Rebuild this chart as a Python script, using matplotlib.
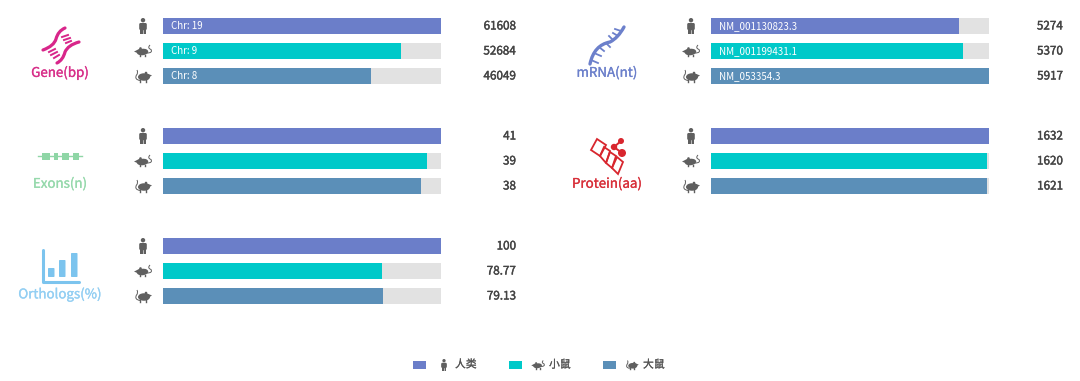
import numpy as np
import matplotlib
matplotlib.use('Agg')
import matplotlib.pyplot as plt
import matplotlib.patheffects as pe
from matplotlib.patches import Circle, Ellipse, FancyBboxPatch, PathPatch, Polygon, Rectangle
from matplotlib.path import Path

plt.rcParams['font.family'] = ['Noto Sans CJK SC', 'DejaVu Sans']

W, H = 1080, 381

# data
species = ['人类', '小鼠', '大鼠']
gene_values = [61608, 52684, 46049]
gene_notes = ['Chr: 19', 'Chr: 9', 'Chr: 8']
mrna_values = [5274, 5370, 5917]
mrna_notes = ['NM_001130823.3', 'NM_001199431.1', 'NM_053354.3']
exon_values = [41, 39, 38]
protein_values = [1632, 1620, 1621]
ortholog_values = [100, 78.77, 79.13]
ortholog_labels = ['100', '78.77', '79.13']

bar_colors = ['#6b7ec9', '#00c9c9', '#5b8fb8']
track_color = '#e2e2e2'
icon_color = '#5f5f5f'
value_color = '#444444'

fig = plt.figure(figsize=(W / 100, H / 100), dpi=100)

# full figure layer in pixel coordinates for icons and captions
bg = fig.add_axes([0, 0, 1, 1])
bg.set_xlim(0, W)
bg.set_ylim(H, 0)
bg.axis('off')


def heavier(txt, color, width=0.2):
    # the source font is a medium weight, the installed one only has regular and bold
    txt.set_path_effects([pe.withStroke(linewidth=width, foreground=color)])


def person(cx, cy, s=1.0):
    bg.add_patch(Circle((cx, cy - 5.8 * s), 2.2 * s, fc=icon_color, ec='none'))
    bg.add_patch(FancyBboxPatch((cx - 3.8 * s, cy - 3 * s), 7.6 * s, 7 * s,
                                boxstyle='round,pad=0,rounding_size=1.4', fc=icon_color, ec='none'))
    bg.add_patch(Rectangle((cx - 2.6 * s, cy + 2 * s), 5.2 * s, 6 * s, fc=icon_color, ec='none'))
    bg.plot([cx, cx], [cy + 4 * s, cy + 8 * s], color='white', lw=0.4)


def mouse(cx, cy, s=1.0):
    # body faces left, tail curls up on the right
    bg.add_patch(Ellipse((cx - 0.5 * s, cy + 1 * s), 11.5 * s, 6.5 * s, angle=-6, fc=icon_color, ec='none'))
    bg.add_patch(Polygon([(cx - 9 * s, cy + 0.6 * s), (cx - 3 * s, cy - 2.5 * s), (cx - 3 * s, cy + 3 * s)],
                         fc=icon_color, ec='none'))
    bg.add_patch(Circle((cx - 2.5 * s, cy - 2.5 * s), 1.3 * s, fc=icon_color, ec='none'))
    tail = Path([(cx + 4 * s, cy + 2 * s), (cx + 10 * s, cy + 2 * s), (cx + 8 * s, cy - 1.5 * s),
                 (cx + 4 * s, cy - 3 * s), (cx + 7 * s, cy - 6 * s)],
                [Path.MOVETO, Path.CURVE3, Path.CURVE3, Path.CURVE3, Path.CURVE3])
    bg.add_patch(PathPatch(tail, fc='none', ec=icon_color, lw=0.7))
    for dx in (-3, 2):
        bg.plot([cx + dx * s, cx + dx * s], [cy + 3.5 * s, cy + 5 * s], color=icon_color, lw=1.0)


def rat(cx, cy, s=1.0):
    # body faces right, tail wraps around the left
    bg.add_patch(Ellipse((cx + 1 * s, cy + 1 * s), 12 * s, 7.5 * s, fc=icon_color, ec='none'))
    bg.add_patch(Polygon([(cx + 9 * s, cy - 0.5 * s), (cx + 3 * s, cy - 3 * s), (cx + 3 * s, cy + 3.2 * s)],
                         fc=icon_color, ec='none'))
    bg.add_patch(Circle((cx + 3 * s, cy - 3 * s), 1.3 * s, fc=icon_color, ec='none'))
    tail = Path([(cx - 3 * s, cy + 4.5 * s), (cx - 9 * s, cy + 3.5 * s), (cx - 6.5 * s, cy - 1 * s),
                 (cx - 4.5 * s, cy - 3 * s), (cx - 6 * s, cy - 6 * s)],
                [Path.MOVETO, Path.CURVE3, Path.CURVE3, Path.CURVE3, Path.CURVE3])
    bg.add_patch(PathPatch(tail, fc='none', ec=icon_color, lw=0.7))
    for dx in (-3, 3):
        bg.plot([cx + dx * s, cx + dx * s], [cy + 4 * s, cy + 5.5 * s], color=icon_color, lw=1.0)


icons = [person, mouse, rat]


def panel(left, top, values, labels, notes=None, value_x=None):
    # three tracks, each bar scaled to the largest value of the panel
    ax = fig.add_axes([left / W, 1 - (top + 72) / H, 278 / W, 72 / H])
    rows = np.arange(3)
    ax.barh(rows, [max(values)] * 3, height=16 / 25, color=track_color)
    ax.barh(rows, values, height=16 / 25, color=bar_colors)
    ax.set_xlim(0, max(values))
    ax.set_ylim(2.44, -0.44)
    ax.axis('off')
    if notes:
        for i, note in enumerate(notes):
            ax.text(max(values) * 8 / 278, i, note, color='white', fontsize=7.0, va='center', ha='left')
    for i, lab in enumerate(labels):
        cy = top + 11 + i * 25
        t = bg.text(value_x, cy, lab, color=value_color, fontsize=8.4, ha='right', va='center')
        heavier(t, value_color, 0.3)
        icons[i](left - 20, cy, 1.0)


panel(163, 15, gene_values, [str(v) for v in gene_values], gene_notes, 516)
panel(711, 15, mrna_values, [str(v) for v in mrna_values], mrna_notes, 1063)
panel(163, 125, exon_values, [str(v) for v in exon_values], None, 516)
panel(711, 125, protein_values, [str(v) for v in protein_values], None, 1063)
panel(163, 235, ortholog_values, ortholog_labels, None, 516)

# captions
captions = [(60, 72.5, 'Gene(bp)', '#d8308a'), (607, 72.5, 'mRNA(nt)', '#6c80cb'),
            (60, 183.5, 'Exons(n)', '#96d9ac'), (607, 183.5, 'Protein(aa)', '#d8303a'),
            (60, 294, 'Orthologs(%)', '#93cff3')]
for x, y, cap, col in captions:
    heavier(bg.text(x, y, cap, color=col, fontsize=9.6, ha='center', va='center'), col, 0.2)

# gene icon
pink = '#d8268a'
codes = [Path.MOVETO, Path.CURVE3, Path.CURVE3, Path.CURVE3, Path.CURVE3]
for pts in ([(43, 50), (54, 46), (56, 39), (58, 31), (65, 28)],
            [(79, 42), (68, 45), (65, 52), (63, 60), (57, 63)]):
    bg.add_patch(PathPatch(Path(pts, codes), fc='none', ec=pink, lw=2.3, capstyle='round'))
for x0, y0, x1, y1 in [(49, 52, 55, 49), (51, 55, 57, 52), (54, 58, 59, 55),
                       (62, 37, 68, 35), (64, 40, 70, 38), (66, 43, 71, 41)]:
    bg.plot([x0, x1], [y0, y1], color=pink, lw=1.4)

# mrna icon
blue = '#6c80cb'
strand = Path([(590, 64), (594, 45), (610, 42), (618, 38), (624, 27)], codes)
bg.add_patch(PathPatch(strand, fc='none', ec=blue, lw=2.4, capstyle='round'))
for x0, y0, x1, y1 in [(591, 60, 598, 63), (594, 53, 601, 56), (599, 47, 604, 51), (606, 43, 610, 47),
                       (613, 40, 609, 36), (618, 36, 613, 33), (621, 31, 615, 29)]:
    bg.plot([x0, x1], [y0, y1], color=blue, lw=1.3)

# exon icon
green = '#8fd6a6'
bg.plot([38, 82], [156, 156], color=green, lw=1.0)
for x0, x1 in [(42, 50), (54, 58), (62, 69), (73, 79)]:
    bg.add_patch(Rectangle((x0, 152.5), x1 - x0, 7, fc=green, ec='none'))

# ortholog icon
sky = '#7cc4ee'
bg.plot([43, 43, 79], [250, 282, 282], color=sky, lw=2.2, solid_joinstyle='round', solid_capstyle='round')
for x0, y0 in [(48, 268), (59, 260), (71, 253)]:
    bg.add_patch(FancyBboxPatch((x0, y0), 6.5, 277 - y0, boxstyle='round,pad=0,rounding_size=0.8', fc=sky, ec='none'))

# protein icon
red = '#d8262e'
for pts in ([(591, 150), (597, 139), (606, 145), (600, 156)],
            [(600, 156), (604, 147), (610, 151), (606, 163)],
            [(606, 163), (610, 152), (616, 156), (612, 168)],
            [(612, 168), (617, 157), (623, 162), (618, 174)]):
    bg.add_patch(Polygon(pts, fc='none', ec=red, lw=1.3))
bg.plot([621, 614, 622], [141, 147, 153], color=red, lw=1.4)
bg.add_patch(Circle((621, 141), 3.0, fc=red, ec='none'))
bg.add_patch(Circle((614, 147), 3.2, fc=red, ec='none'))
bg.add_patch(Circle((622, 153), 4.0, fc=red, ec='none'))

# legend
for i, (sx, ix, tx) in enumerate([(413, 444, 455), (509, 538, 549), (603, 632, 643)]):
    bg.add_patch(Rectangle((sx, 361), 13, 8, fc=bar_colors[i], ec='none'))
    icons[i](ix, 365, 0.75)
    heavier(bg.text(tx, 364.5, species[i], color='#555555', fontsize=7.8, ha='left', va='center'), '#555555', 0.15)

fig.savefig('out.png', dpi=100)
